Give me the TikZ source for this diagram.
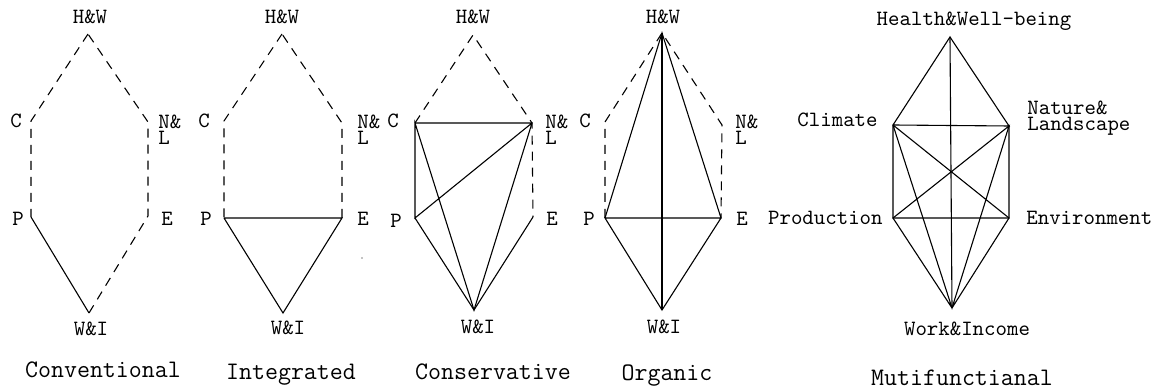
\documentclass[tikz,border=0pt]{standalone}
\usepackage{fontspec}

\begin{document}
\begin{tikzpicture}[x=0.5pt, y=-0.5pt,
  lab/.style={font=\ttfamily\fontsize{10.9}{8}\selectfont, inner sep=0pt,
              anchor=base},
  lab2/.style={lab, anchor=base west},
  ttl/.style={font=\ttfamily\fontsize{12.6}{14}\selectfont, inner sep=0pt,
              anchor=base},
  ln/.style={line width=0.55pt},
  dl/.style={ln, dash pattern=on 4.5pt off 3.5pt}]
\useasboundingbox (0,0) rectangle (1158,389);

% Conventional
\coordinate (hw1) at (88,34);  \coordinate (c1) at (31,121);
\coordinate (nl1) at (148,122); \coordinate (p1) at (31,217);
\coordinate (e1) at (148,216); \coordinate (wi1) at (89,313);
\node[lab] (lhw1) at (90,24) {H\&W};
\node[lab] (lc1) at (16,128) {C};
\node[lab] (lp1) at (18,226) {P};
\node[lab2] (lnl1) at (158,129) {N\&};
\node[lab2] (lnl1b) at (158,145) {L};
\node[lab] (le1) at (167,226) {E};
\node[lab] (lwi1) at (91,336) {W\&I};
\node[ttl] (t1) at (103,378) {Conventional};
\draw[dl] (hw1) -- (c1) -- (p1);
\draw[dl] (wi1) -- (e1) -- (nl1) -- (hw1);
\draw[ln] (p1) -- (wi1);

% Integrated
\coordinate (hw2) at (282,34); \coordinate (c2) at (224,121);
\coordinate (nl2) at (342,123); \coordinate (p2) at (224,218);
\coordinate (e2) at (342,218); \coordinate (wi2) at (283,313);
\node[lab] (lhw2) at (282,24) {H\&W};
\node[lab] (lc2) at (204,128) {C};
\node[lab] (lp2) at (206,226) {P};
\node[lab2] (lnl2) at (357,129) {N\&};
\node[lab2] (lnl2b) at (357,145) {L};
\node[lab] (le2) at (363,226) {E};
\node[lab] (lwi2) at (288,335) {W\&I};
\node[ttl] (t2) at (291,380) {Integrated};
\draw[dl] (hw2) -- (c2) -- (p2);
\draw[dl] (e2) -- (nl2) -- (hw2);
\draw[ln] (p2) -- (e2) -- (wi2) -- (p2);
\fill (362,258) circle (0.7);

% Conservative
\coordinate (hw3) at (473,35); \coordinate (c3) at (415,123);
\coordinate (nl3) at (532,123); \coordinate (p3) at (415,218);
\coordinate (e3) at (533,217); \coordinate (wi3) at (474,310);
\node[lab] (lhw3) at (473,24) {H\&W};
\node[lab] (lc3) at (393,128) {C};
\node[lab] (lp3) at (396,228) {P};
\node[lab2] (lnl3) at (545,129) {N\&};
\node[lab2] (lnl3b) at (545,145) {L};
\node[lab] (le3) at (552,226) {E};
\node[lab] (lwi3) at (478,334) {W\&I};
\node[ttl] (t3) at (493,380) {Conservative};
\draw[dl] (c3) -- (hw3) -- (nl3) -- (e3);
\draw[ln] (c3) -- (nl3) -- (wi3) -- (c3) -- (p3) -- (nl3);
\draw[ln] (p3) -- (wi3) -- (e3);

% Organic
\coordinate (hw4) at (662,33); \coordinate (c4) at (605,122);
\coordinate (nl4) at (722,125); \coordinate (p4) at (605,218);
\coordinate (e4) at (721,218); \coordinate (wi4) at (662,310);
\node[lab] (lhw4) at (663,24) {H\&W};
\node[lab] (lc4) at (585,128) {C};
\node[lab] (lp4) at (589,226) {P};
\node[lab2] (lnl4) at (735,129) {N\&};
\node[lab2] (lnl4b) at (735,145) {L};
\node[lab] (le4) at (742,226) {E};
\node[lab] (lwi4) at (664,334) {W\&I};
\node[ttl] (t4) at (667,381) {Organic};
\draw[dl] (p4) -- (c4) -- (hw4) -- (nl4) -- (e4);
\draw[ln] (p4) -- (hw4) -- (e4) -- (p4) -- (wi4) -- (e4);
\draw[ln] (hw4) -- (wi4);

% Mutifunctianal
\coordinate (hw5) at (950,37); \coordinate (c5) at (893,125);
\coordinate (nl5) at (1009,126); \coordinate (p5) at (893,218);
\coordinate (e5) at (1009,218); \coordinate (wi5) at (952,308);
\node[lab] (lhw5) at (974,26) {Health\&Well-being};
\node[lab, anchor=base east] (lc5) at (878,127) {Climate};
\node[lab2] (lnl5) at (1027,115) {Nature\&};
\node[lab2] (lnl5b) at (1027,131) {Landscape};
\node[lab, anchor=base east] (lp5) at (883,225) {Production};
\node[lab, anchor=base west] (le5) at (1026,225) {Environment};
\node[lab] (lwi5) at (967,336) {Work\&Income};
\node[ttl] (t5) at (962,386) {Mutifunctianal};
\draw[ln] (c5) -- (hw5) -- (nl5) -- (c5) -- (p5) -- (e5) -- (nl5);
\draw[ln] (c5) -- (e5) -- (wi5) -- (p5) -- (nl5) -- (wi5) -- (c5);
\draw[ln] (hw5) -- (wi5);
\end{tikzpicture}
\end{document}
